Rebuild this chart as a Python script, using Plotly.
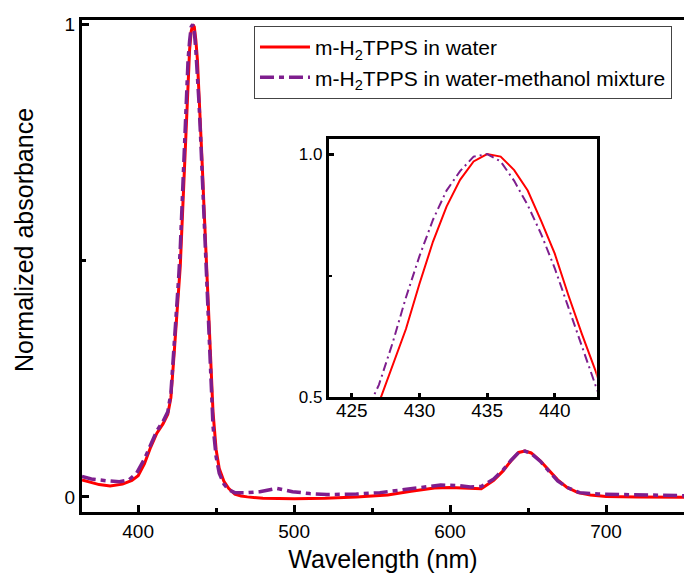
import plotly.graph_objects as go

# Wavelength (nm) and normalized absorbance, m-H2TPPS in water
water_wl = [364, 370, 375, 382, 390, 396, 400, 404, 408, 412, 416, 419, 421, 423, 425, 426,
            427, 428, 429, 430, 431, 432, 433, 434, 435, 436, 437, 438, 439, 440, 441, 442,
            443, 444, 445, 446, 447, 448, 450, 452, 455, 458, 462, 466, 470, 480, 500, 520,
            540, 560, 575, 590, 600, 610, 620, 628, 634, 639, 644, 648, 652, 658, 664, 669,
            675, 682, 690, 700, 720, 740, 757]
water_abs = [0.036, 0.030, 0.026, 0.023, 0.027, 0.035, 0.045, 0.070, 0.105, 0.135, 0.155, 0.175,
             0.210, 0.300, 0.400, 0.445, 0.488, 0.565, 0.640, 0.733, 0.820, 0.892, 0.947, 0.985,
             1.000, 0.995, 0.967, 0.925, 0.862, 0.795, 0.710, 0.630, 0.555, 0.470, 0.390, 0.310,
             0.240, 0.180, 0.100, 0.060, 0.033, 0.018, 0.006, 0.002, 0.000, -0.003, -0.004,
             -0.003, 0.000, 0.004, 0.012, 0.019, 0.020, 0.018, 0.017, 0.035, 0.055, 0.076,
             0.094, 0.097, 0.093, 0.076, 0.054, 0.036, 0.020, 0.009, 0.004, 0.001, 0.000,
             -0.001, -0.001]

# m-H2TPPS in water-methanol mixture
mix_wl = [364, 370, 380, 388, 394, 399, 404, 408, 412, 416, 419, 421, 423, 425, 426, 427,
          428, 429, 430, 431, 432, 433, 434, 435, 436, 437, 438, 439, 440, 441, 442, 443,
          444, 445, 446, 447, 448, 450, 452, 455, 458, 462, 470, 478, 489, 499, 510, 521,
          540, 555, 576, 594, 605, 613, 620, 628, 634, 639, 644, 648, 652, 658, 664, 669,
          675, 683, 695, 715, 735, 757]
mix_abs = [0.043, 0.038, 0.034, 0.032, 0.036, 0.050, 0.080, 0.110, 0.140, 0.160, 0.180,
           0.220, 0.310, 0.410, 0.465, 0.525, 0.610, 0.705, 0.790, 0.865, 0.925, 0.965,
           0.995, 1.000, 0.985, 0.945, 0.895, 0.835, 0.765, 0.685, 0.600, 0.515, 0.430,
           0.350, 0.275, 0.205, 0.150, 0.085, 0.050, 0.027, 0.015, 0.009, 0.009, 0.011,
           0.018, 0.011, 0.007, 0.005, 0.006, 0.009, 0.018, 0.025, 0.024, 0.021, 0.022,
           0.038, 0.057, 0.077, 0.094, 0.097, 0.092, 0.075, 0.052, 0.034, 0.020, 0.009,
           0.006, 0.004, 0.003, 0.002]

series_names = ["m-H<sub>2</sub>TPPS in water", "m-H<sub>2</sub>TPPS in water-methanol mixture"]
x_title = "Wavelength (nm)"
y_title = "Normalized absorbance"
main_xticks = [400, 500, 600, 700]
main_xminor = [450, 550, 650, 750]
main_yticks = [0, 1]
main_yminor = [0.5]
inset_xticks = [425, 430, 435, 440]
inset_yticks = [0.5, 1.0]
inset_yminor = [0.75]

RED = "#FF0000"
PURPLE = "#7E1E8E"
FONT = "Liberation Sans, Arial, sans-serif"

fig = go.Figure()
fig.add_trace(go.Scatter(x=water_wl, y=water_abs, mode="lines", name=series_names[0],
                         line=dict(color=RED, width=3), xaxis="x", yaxis="y"))
fig.add_trace(go.Scatter(x=mix_wl, y=mix_abs, mode="lines", name=series_names[1],
                         line=dict(color=PURPLE, width=3.5, dash="14px,5px,5px,5px"),
                         xaxis="x", yaxis="y"))
fig.add_trace(go.Scatter(x=water_wl, y=water_abs, mode="lines", showlegend=False,
                         line=dict(color=RED, width=2), xaxis="x2", yaxis="y2"))
fig.add_trace(go.Scatter(x=mix_wl, y=mix_abs, mode="lines", showlegend=False,
                         line=dict(color=PURPLE, width=2, dash="9px,4px,2px,4px"),
                         xaxis="x2", yaxis="y2"))

axis_common = dict(showline=True, linecolor="black", linewidth=3, showgrid=False,
                   zeroline=False, ticks="inside", tickcolor="black", tickwidth=3,
                   automargin=False)

fig.update_layout(
    width=676, height=565,
    margin=dict(l=74, r=0, t=12, b=61, autoexpand=False),
    paper_bgcolor="white", plot_bgcolor="white",
    font=dict(family=FONT, color="black"),
    xaxis=dict(**axis_common, domain=[0, 1], range=[364, 750], mirror=True,
               tickmode="array", tickvals=main_xticks, ticklen=7,
               minor=dict(tickmode="array", tickvals=main_xminor, ticks="inside",
                          ticklen=4, tickwidth=3, tickcolor="black"),
               tickfont=dict(size=19),
               title=dict(text=x_title, font=dict(size=25), standoff=20)),
    yaxis=dict(**axis_common, domain=[0, 1], range=[-0.032, 1.0095], mirror=False,
               tickmode="array", tickvals=main_yticks, ticklen=7,
               minor=dict(tickmode="array", tickvals=main_yminor, ticks="inside",
                          ticklen=4, tickwidth=3, tickcolor="black"),
               tickfont=dict(size=19)),
    xaxis2=dict(**axis_common, domain=[0.410, 0.855], anchor="y2", range=[423.3, 443.1],
                mirror=True, tickmode="array", tickvals=inset_xticks, ticklen=4,
                ticklabelstandoff=-6, tickfont=dict(size=19)),
    yaxis2=dict(**axis_common, domain=[0.2337, 0.758], anchor="x2", range=[0.5, 1.031],
                mirror=True, tickmode="array", tickvals=inset_yticks, ticklen=5,
                tickformat=".1f",
                minor=dict(tickmode="array", tickvals=inset_yminor, ticks="inside",
                           ticklen=3, tickwidth=2, tickcolor="black"),
                tickfont=dict(size=17)),
    legend=dict(x=0.2857, y=0.988, xanchor="left", yanchor="top",
                bordercolor="#444444", borderwidth=1, bgcolor="white",
                font=dict(size=21, family=FONT), tracegroupgap=0, itemwidth=50),
    showlegend=True,
    annotations=[dict(text=y_title, textangle=-90, xref="paper", yref="paper",
                      x=-0.0963, y=0.553, xanchor="center", yanchor="middle",
                      showarrow=False, font=dict(size=25, family=FONT, color="black"))],
)

fig.write_html("out.html")
